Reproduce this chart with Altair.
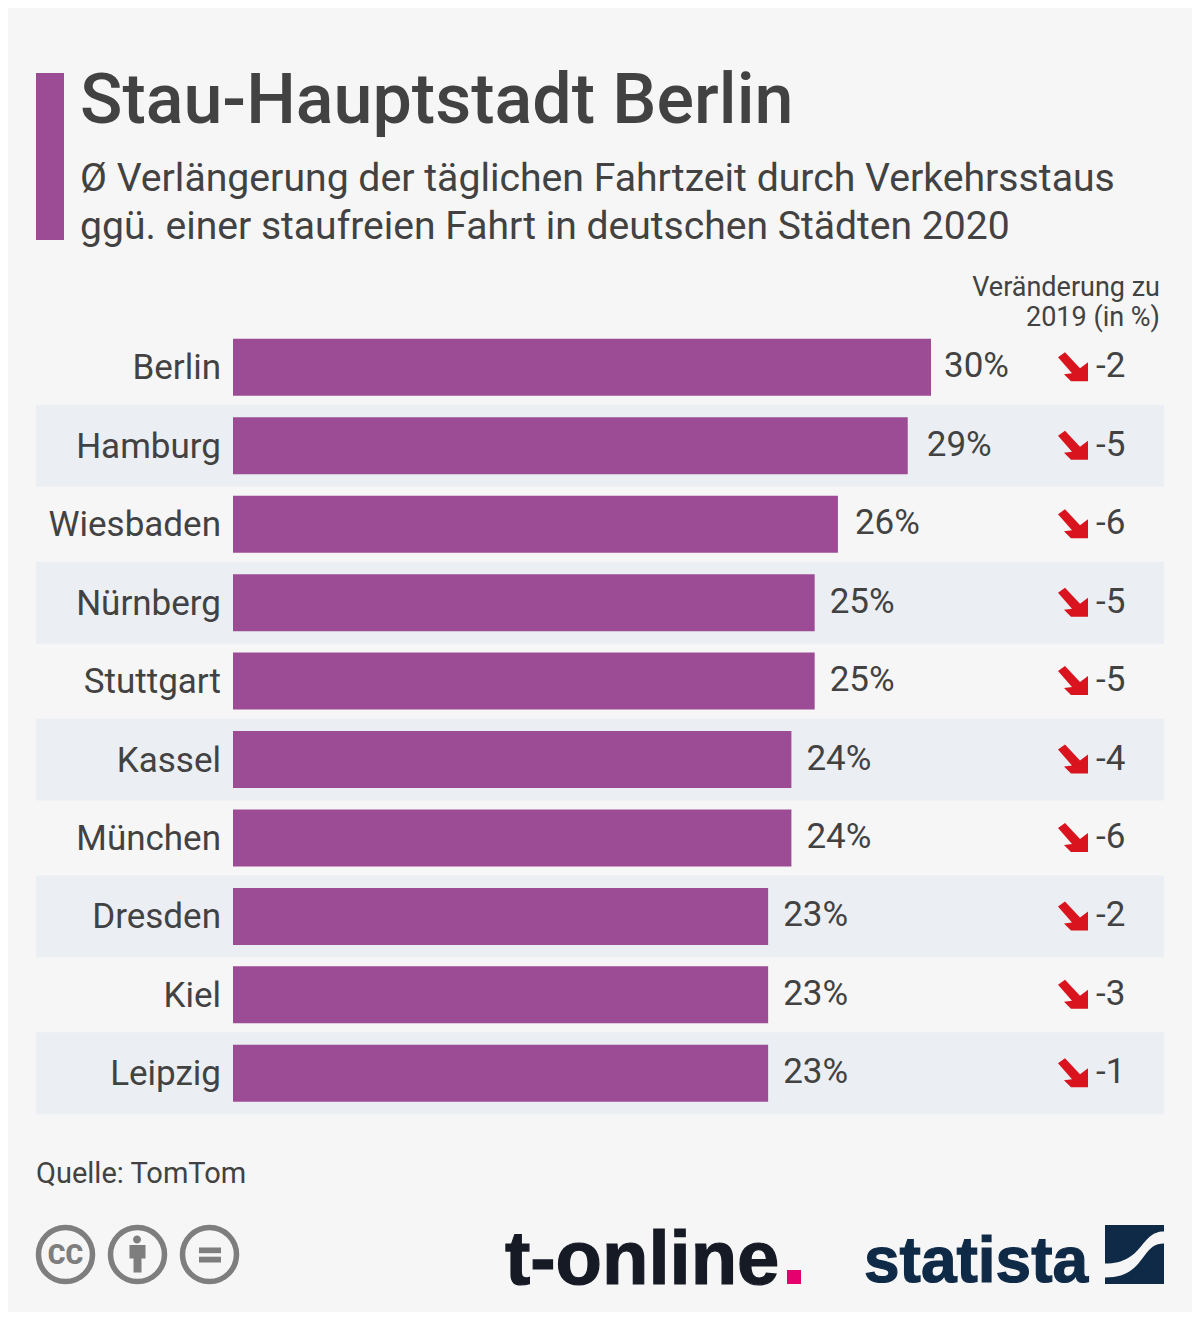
import altair as alt
import pandas as pd

cities = ["Berlin", "Hamburg", "Wiesbaden", "Nürnberg", "Stuttgart", "Kassel", "München", "Dresden", "Kiel", "Leipzig"]
values = [30, 29, 26, 25, 25, 24, 24, 23, 23, 23]
changes = [-2, -5, -6, -5, -5, -4, -6, -2, -3, -1]
striped = ["Hamburg", "Nürnberg", "Kassel", "Dresden", "Leipzig"]
title_text = "Stau-Hauptstadt Berlin"
subtitle_lines = ["Ø Verlängerung der täglichen Fahrtzeit durch Verkehrsstaus", "ggü. einer staufreien Fahrt in deutschen Städten 2020"]
header_lines = ["Veränderung zu", "2019 (in %)"]
source_text = "Quelle: TomTom"

BG, PURPLE, STRIPE, INK, RED, GREY, NAVY, DARK, PINK = "#f6f6f6", "#9c4c94", "#ebeef2", "#424242", "#d9141f", "#7e7e7e", "#0f2a47", "#151a25", "#e5006d"
FONT = "Roboto"
OFF = 8
LABEL_DX = {30: 13, 29: 19, 26: 17, 25: 15, 24: 15, 23: 15}


def px(v):
    return alt.value(v - OFF)


df = pd.DataFrame({"city": cities, "value": values, "change": changes})
df["label"] = df["value"].astype(str) + "%"
df["change_label"] = df["change"].astype(str)

x_enc = alt.X("value:Q", scale=alt.Scale(domain=[0, 30], range=[233 - OFF, 931 - OFF]), axis=None)
y_enc = alt.Y("city:N", sort=cities, axis=None,
              scale=alt.Scale(domain=cities, range=[328.1 - OFF, 1112.5 - OFF], paddingInner=0, paddingOuter=0))
base = alt.Chart(df)
one = alt.Chart(pd.DataFrame({"k": [0]}))


def note(text, x, y, size, align="left", weight=400, color=INK, font=FONT, stroke=0):
    opts = dict(text=text, align=align, baseline="alphabetic", fontSize=size, fontWeight=weight, color=color, font=font)
    if stroke:
        opts.update(stroke=color, strokeWidth=stroke)
    return one.mark_text(**opts).encode(x=px(x), y=px(y))


def glyph(path, x, y, color):
    return one.mark_point(shape=path, size=4, filled=True, fill=color, stroke=None, strokeWidth=0, opacity=1).encode(x=px(x), y=px(y))


def block(x0, x1, y0, y1, color):
    return one.mark_rect(color=color).encode(x=px(x0), x2=px(x1), y=px(y0), y2=px(y1))


def ring(x, y):
    return one.mark_point(shape="circle", size=2916, filled=False, stroke=GREY, strokeWidth=5.5, opacity=1).encode(x=px(x), y=px(y))


ARROW = "M-15,-10 L-8,-15 L7,1 L15,-5 L15,14 L-2,14 L-9,7 L-1,6 Z"
PERSON = "M-8,-9.5 L8,-9.5 L8,4 L4,4 L4,18 L-4,18 L-4,4 L-8,4 Z"
HEAD = "M-4,0 A4,4 0 1,0 4,0 A4,4 0 1,0 -4,0 Z"
LOGO_A = "M-29.5,-29.5 L29.5,-29.5 L29.5,-23 C5,-23 10,9 -29.5,9 Z"
LOGO_B = "M29.5,-11 L29.5,29.5 L-29.5,29.5 L-29.5,23 C12,23 5,-11 29.5,-11 Z"

stripes = base.transform_filter(alt.FieldOneOfPredicate(field="city", oneOf=striped)).mark_bar(height=82, color=STRIPE).encode(x=px(36), x2=px(1164), y=y_enc)
bars = base.mark_bar(height=57, color=PURPLE).encode(x=x_enc, y=y_enc)
names = base.mark_text(align="right", baseline="middle", fontSize=35, color=INK, font=FONT, dy=1).encode(x=px(221), y=y_enc, text="city:N")
labels = [
    base.transform_filter(alt.datum.value == v).mark_text(align="left", baseline="middle", fontSize=35, color=INK, font=FONT, dx=dx, dy=-1).encode(x=x_enc, y=y_enc, text="label:N")
    for v, dx in LABEL_DX.items()
]
arrows = base.mark_point(shape=ARROW, size=4, filled=True, fill=RED, stroke=None, strokeWidth=0, opacity=1).encode(x=px(1073), y=y_enc)
deltas = base.mark_text(align="left", baseline="middle", fontSize=35, color=INK, font=FONT, dy=-1).encode(x=px(1096), y=y_enc, text="change_label:N")

layers = [
    stripes, bars, names, *labels, arrows, deltas,
    block(36, 64, 73, 240, PURPLE),
    note(title_text, 80, 123, 70, weight=500),
    note(subtitle_lines[0], 80, 191, 39.2),
    note(subtitle_lines[1], 80, 239, 39.1),
    note(header_lines[0], 1160, 296, 27, align="right"),
    note(header_lines[1], 1160, 326, 27, align="right"),
    note(source_text, 36, 1183, 29),
    ring(65.5, 1254.5), ring(137.5, 1254.5), ring(209.5, 1254.5),
    note("CC", 65.5, 1264, 27, align="center", weight=900, color=GREY),
    glyph(PERSON, 137.5, 1254.5, GREY), glyph(HEAD, 137, 1239.5, GREY),
    block(199, 221, 1247.5, 1253.2, GREY), block(199, 221, 1256.7, 1262.5, GREY),
    note("t-online", 505, 1284, 76, weight=700, color=DARK, font="Liberation Sans", stroke=1.2),
    block(787, 801, 1270, 1284, PINK),
    note("statista", 864, 1282, 64, weight=700, color=NAVY, font="Liberation Sans", stroke=1.2),
    glyph(LOGO_A, 1134.5, 1254.5, NAVY), glyph(LOGO_B, 1134.5, 1254.5, NAVY),
]

chart = alt.layer(*layers).properties(
    width=1184, height=1304, background=BG, padding=0,
    autosize=alt.AutoSizeParams(type="none"),
).configure_view(stroke=None)

chart.save("out.html", embed_options={"renderer": "svg", "actions": False})
